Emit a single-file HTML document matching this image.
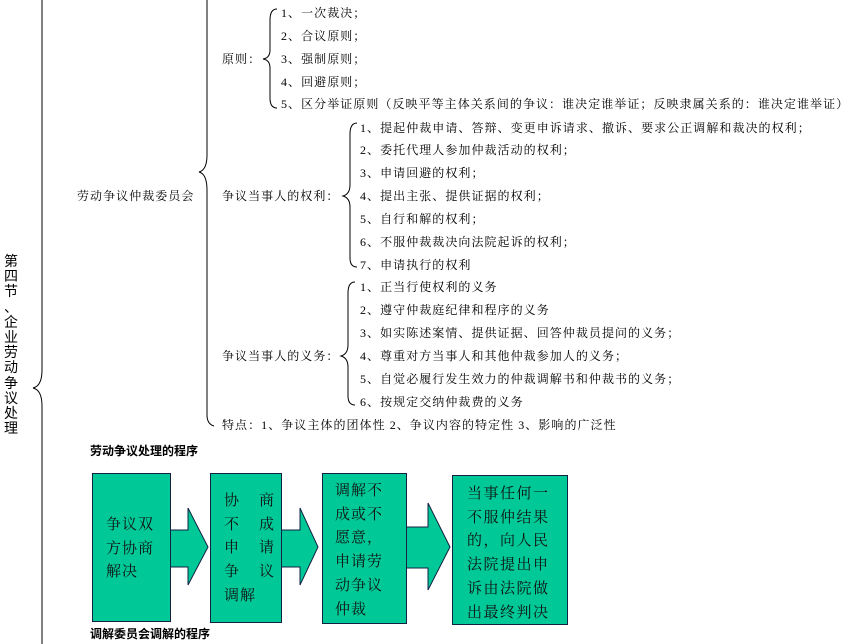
<!DOCTYPE html>
<html><head><meta charset="utf-8"><style>
body{margin:0;background:#fff;}
#c{position:relative;width:850px;height:644px;overflow:hidden;font-family:"Liberation Serif","Noto Serif CJK SC",serif;font-size:12px;color:#000;}
.t{position:absolute;white-space:nowrap;line-height:14px;letter-spacing:1.05px;}
.b{position:absolute;background:#00c896;border:1px solid #124;box-sizing:border-box;font-size:15px;line-height:23.7px;color:#111;letter-spacing:1px;}
.h{position:absolute;font-weight:bold;font-size:12px;white-space:nowrap;font-family:"Liberation Sans","Noto Sans CJK SC",sans-serif;}
</style></head><body><div id="c">
<svg width="850" height="644" style="position:absolute;left:0;top:0" fill="none" stroke="#000" stroke-width="1">
<path d="M42 0 V370 Q42 386 33 388 Q42 390 42 406 V644"/>
<path d="M207 0 V155 Q207 170 199 172 Q207 174 207 190 V415 Q207 424 214 426"/>
<path d="M277 9 Q270 9 270 20 V50 Q270 58 263 59 Q270 60 270 68 V98 Q270 108 277 108"/>
<path d="M357 123 Q350 123 350 134 V185 Q350 194 343 196 Q350 198 350 207 V258 Q350 267 357 267"/>
<path d="M355 282 Q348 282 348 293 V345 Q348 354 341 356 Q348 358 348 367 V396 Q348 405 355 405"/>
</svg>
<div class="t" style="left:4px;top:254px;width:14px;white-space:normal;font-family:'Liberation Sans','Noto Sans CJK SC',sans-serif;font-size:14px;line-height:15.2px;letter-spacing:0">第<br>四<br>节<br>、<br>企<br>业<br>劳<br>动<br>争<br>议<br>处<br>理</div>
<div class="t" style="left:77px;top:189px">劳动争议仲裁委员会</div>
<div class="t" style="left:222px;top:52px">原则：</div>
<div class="t" style="left:281px;top:6px">1、一次裁决；</div>
<div class="t" style="left:281px;top:29px">2、合议原则；</div>
<div class="t" style="left:281px;top:52px">3、强制原则；</div>
<div class="t" style="left:281px;top:75px">4、回避原则；</div>
<div class="t" style="left:281px;top:97px">5、区分举证原则（反映平等主体关系间的争议：谁决定谁举证；反映隶属关系的：谁决定谁举证）</div>
<div class="t" style="left:222px;top:189px">争议当事人的权利：</div>
<div class="t" style="left:360px;top:121px">1、提起仲裁申请、答辩、变更申诉请求、撤诉、要求公正调解和裁决的权利；</div>
<div class="t" style="left:360px;top:143px">2、委托代理人参加仲裁活动的权利；</div>
<div class="t" style="left:360px;top:166px">3、申请回避的权利；</div>
<div class="t" style="left:360px;top:189px">4、提出主张、提供证据的权利；</div>
<div class="t" style="left:360px;top:212px">5、自行和解的权利；</div>
<div class="t" style="left:360px;top:235px">6、不服仲裁裁决向法院起诉的权利；</div>
<div class="t" style="left:360px;top:258px">7、申请执行的权利</div>
<div class="t" style="left:222px;top:349px">争议当事人的义务：</div>
<div class="t" style="left:360px;top:280px">1、正当行使权利的义务</div>
<div class="t" style="left:360px;top:303px">2、遵守仲裁庭纪律和程序的义务</div>
<div class="t" style="left:360px;top:326px">3、如实陈述案情、提供证据、回答仲裁员提问的义务；</div>
<div class="t" style="left:360px;top:349px">4、尊重对方当事人和其他仲裁参加人的义务；</div>
<div class="t" style="left:360px;top:372px">5、自觉必履行发生效力的仲裁调解书和仲裁书的义务；</div>
<div class="t" style="left:360px;top:395px">6、按规定交纳仲裁费的义务</div>
<div class="t" style="left:222px;top:418px">特点：1、争议主体的团体性 2、争议内容的特定性 3、影响的广泛性</div>
<div class="h" style="left:90px;top:442px">劳动争议处理的程序</div>
<div class="h" style="left:90px;top:625px">调解委员会调解的程序</div>
<svg width="850" height="644" style="position:absolute;left:0;top:0" stroke="#124" stroke-width="1" fill="#00c896">
<polygon points="168,530 188,530 188,508 208,547 188,585 188,567 168,567"/>
<polygon points="280,530 300,530 300,508 318,547 300,585 300,567 280,567"/>
<polygon points="405,527 428,527 428,503 450,547 428,590 428,568 405,568"/>
</svg>
<div class="b" style="left:92px;top:473px;width:79px;height:149px;padding:40px 0 0 13px">争议双<br>方协商<br>解决</div>
<div class="b" style="left:210px;top:473px;width:72px;height:150px;padding:16px 0 0 13px;word-spacing:0">协&nbsp;&nbsp;&nbsp;&nbsp;商<br>不&nbsp;&nbsp;&nbsp;&nbsp;成<br>申&nbsp;&nbsp;&nbsp;&nbsp;请<br>争&nbsp;&nbsp;&nbsp;&nbsp;议<br>调解</div>
<div class="b" style="left:322px;top:473px;width:85px;height:151px;padding:6px 0 0 12px">调解不<br>成或不<br>愿意，<br>申请劳<br>动争议<br>仲裁</div>
<div class="b" style="left:452px;top:475px;width:116px;height:150px;padding:7px 0 0 14px;letter-spacing:1.5px">当事任何一<br>不服仲结果<br>的，向人民<br>法院提出申<br>诉由法院做<br>出最终判决</div>
</div></body></html>
